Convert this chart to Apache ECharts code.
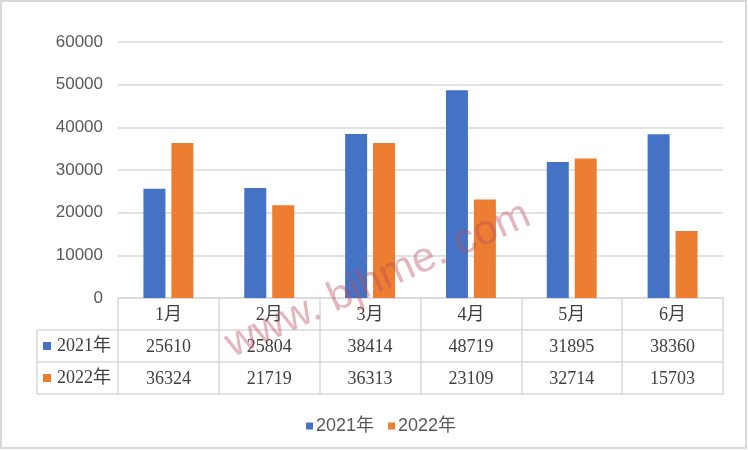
<!DOCTYPE html>
<html>
<head>
<meta charset="utf-8">
<script src="https://cdn.jsdelivr.net/npm/echarts@6/dist/echarts.min.js"></script>
<style>
html,body{margin:0;padding:0;background:#fff;}
#c{width:748px;height:450px;}
</style>
</head>
<body>
<div id="c"></div>
<script>
const categories = ['1月','2月','3月','4月','5月','6月'];
const seriesNames = ['2021年','2022年'];
const values2021 = [25610, 25804, 38414, 48719, 31895, 38360];
const values2022 = [36324, 21719, 36313, 23109, 32714, 15703];
const yTicks = [0, 10000, 20000, 30000, 40000, 50000, 60000];

const colors = ['#4472C4', '#ED7D31'];
const lineColor = '#d9d9d9';
const gridLeft = 118, gridRight = 25, gridTop = 42, gridBottom = 152;
const rowH = 32;
const tableLeft = 37;
const axisY = 450 - gridBottom;

const chart = echarts.init(document.getElementById('c'), null, {renderer: 'canvas'});

const serifFont = '"Liberation Serif", "Noto Sans CJK SC", serif';
const textColor = '#404040';

function rowAxis(offset, labels, showLabel) {
  return {
    type: 'category',
    data: categories,
    position: 'bottom',
    offset: offset,
    axisLine: {show: true, lineStyle: {color: lineColor, width: 1.5}},
    axisTick: {show: false},
    axisLabel: {
      show: showLabel,
      interval: 0,
      margin: 8,
      fontFamily: serifFont,
      fontSize: 18,
      color: textColor,
      formatter: function (v) { return labels ? String(labels[categories.indexOf(v)]) : ''; }
    }
  };
}

const option = {
  backgroundColor: '#fff',
  animation: false,
  color: colors,
  grid: {left: gridLeft, right: gridRight, top: gridTop, bottom: gridBottom, containLabel: false},
  legend: {
    data: seriesNames,
    left: 301,
    top: 412,
    icon: 'rect',
    itemWidth: 7,
    itemHeight: 7,
    itemGap: 14,
    textStyle: {fontFamily: '"Liberation Sans", "Noto Sans CJK SC", sans-serif', fontSize: 18, color: '#595959', padding: [0,0,0,-2]}
  },
  xAxis: [
    {
      type: 'category',
      data: categories,
      position: 'bottom',
      axisLine: {show: true, lineStyle: {color: lineColor, width: 1.5}},
      axisTick: {show: true, length: rowH * 3, interval: 0, lineStyle: {color: lineColor, width: 1.5}},
      axisLabel: {interval: 0, margin: 8, fontFamily: serifFont, fontSize: 18, color: textColor}
    },
    rowAxis(rowH, values2021, true),
    rowAxis(rowH * 2, values2022, true),
    rowAxis(rowH * 3, null, false)
  ],
  yAxis: {
    type: 'value',
    min: yTicks[0],
    max: yTicks[yTicks.length - 1],
    interval: yTicks[1] - yTicks[0],
    axisLine: {show: false},
    axisTick: {show: false},
    splitLine: {lineStyle: {color: lineColor, width: 1.5}},
    axisLabel: {margin: 15, fontFamily: '"Liberation Sans", sans-serif', fontSize: 17, color: '#595959',
      formatter: function (v) { return String(v); }}
  },
  series: [
    {name: seriesNames[0], type: 'bar', data: values2021, barWidth: 22, barGap: '27%', itemStyle: {color: colors[0]}},
    {name: seriesNames[1], type: 'bar', data: values2022, barWidth: 22, barGap: '27%', itemStyle: {color: colors[1]}}
  ],
  graphic: [
    {type: 'rect', shape: {x: 1, y: 1, width: 745, height: 447}, style: {fill: 'none', stroke: lineColor, lineWidth: 2}, silent: true},
    {type: 'line', shape: {x1: tableLeft, y1: axisY + rowH, x2: gridLeft, y2: axisY + rowH}, style: {stroke: lineColor, lineWidth: 1.5}},
    {type: 'line', shape: {x1: tableLeft, y1: axisY + rowH * 2, x2: gridLeft, y2: axisY + rowH * 2}, style: {stroke: lineColor, lineWidth: 1.5}},
    {type: 'line', shape: {x1: tableLeft, y1: axisY + rowH * 3, x2: gridLeft, y2: axisY + rowH * 3}, style: {stroke: lineColor, lineWidth: 1.5}},
    {type: 'line', shape: {x1: tableLeft, y1: axisY + rowH, x2: tableLeft, y2: axisY + rowH * 3}, style: {stroke: lineColor, lineWidth: 1.5}},
    {type: 'rect', shape: {x: 43, y: axisY + rowH * 1.5 - 4, width: 8, height: 8}, style: {fill: colors[0]}},
    {type: 'rect', shape: {x: 43, y: axisY + rowH * 2.5 - 4, width: 8, height: 8}, style: {fill: colors[1]}},
    {type: 'text', x: 57, y: axisY + rowH * 1.5, style: {text: seriesNames[0], font: '18px ' + serifFont, fill: textColor, verticalAlign: 'middle'}},
    {type: 'text', x: 57, y: axisY + rowH * 2.5, style: {text: seriesNames[1], font: '18px ' + serifFont, fill: textColor, verticalAlign: 'middle'}},
    {type: 'text', x: 378, y: 280, rotation: 24 * Math.PI / 180, z: 100,
     style: {text: 'www. bjhme. com', font: '42px "Liberation Sans", sans-serif', fill: 'rgba(185,80,95,0.42)', align: 'center', verticalAlign: 'middle'}}
  ]
};
chart.setOption(option);
</script>
</body>
</html>
